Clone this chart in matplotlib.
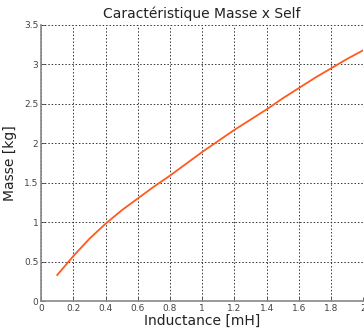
import numpy as np
import matplotlib.pyplot as plt

inductance = [0.1, 0.2, 0.3, 0.4, 0.5, 0.6, 0.7, 0.8, 0.9, 1.0,
              1.1, 1.2, 1.3, 1.4, 1.5, 1.6, 1.7, 1.8, 1.9, 2.0]
masse = [0.33, 0.57, 0.79, 0.98, 1.15, 1.30, 1.45, 1.59, 1.74, 1.89,
         2.03, 2.17, 2.30, 2.43, 2.57, 2.70, 2.83, 2.95, 3.07, 3.18]

xticks = [0, 0.2, 0.4, 0.6, 0.8, 1, 1.2, 1.4, 1.6, 1.8, 2]
xlabels = ['0', '0.2', '0.4', '0.6', '0.8', '1', '1.2', '1.4', '1.6', '1.8', '2']
yticks = [0, 0.5, 1, 1.5, 2, 2.5, 3, 3.5]
ylabels = ['0', '0.5', '1', '1.5', '2', '2.5', '3', '3.5']

fig = plt.figure(figsize=(3.64, 3.33), dpi=100)
ax = fig.add_axes([0.113, 0.096, 0.885, 0.829])

ax.plot(inductance, masse, c='#ff5a1e', lw=1.3)

ax.set_xlim(0, 2)
ax.set_ylim(0, 3.5)
ax.set_xticks(xticks)
ax.set_xticklabels(xlabels)
ax.set_yticks(yticks)
ax.set_yticklabels(ylabels)
ax.tick_params(direction='in', length=3, width=0.6, labelsize=6.5,
               colors='#444444', pad=2)
ax.grid(True, ls=(0, (1.5, 2)), c='#333333', lw=0.7)

for s in ['top', 'right']:
    ax.spines[s].set_visible(False)
for s in ['left', 'bottom']:
    ax.spines[s].set_color('#888888')
    ax.spines[s].set_linewidth(1.2)

ax.set_title('Caractéristique Masse x Self', fontsize=10, color='#222222', pad=5)
ax.set_xlabel('Inductance [mH]', fontsize=10, color='#222222', labelpad=1)
ax.set_ylabel('Masse [kg]', fontsize=10, color='#222222', labelpad=5)

fig.savefig('out.png', dpi=100)
